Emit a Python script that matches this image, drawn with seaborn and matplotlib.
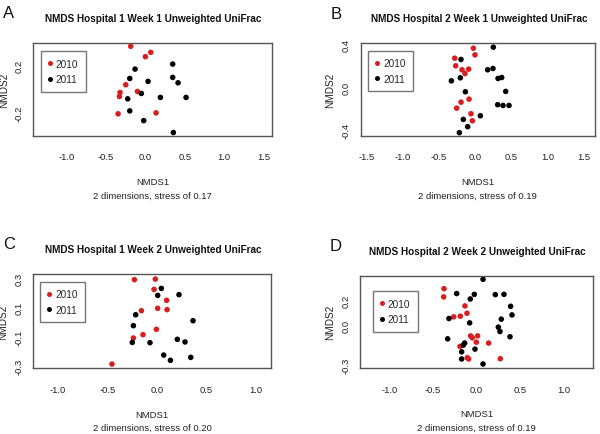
import matplotlib
matplotlib.use("Agg")
import matplotlib.pyplot as plt
import seaborn as sns
import pandas as pd

# ---------------- data ----------------
years = ["2010", "2011"]

a_x_2010 = [-0.186, 0.000, 0.068, -0.249, -0.321, -0.329, -0.101, -0.346, 0.135]
a_y_2010 = [0.366, 0.277, 0.314, 0.037, -0.029, -0.063, -0.020, -0.211, -0.203]
a_x_2011 = [0.346, -0.131, -0.198, 0.034, 0.346, 0.414, -0.051, -0.224, 0.190, 0.515, -0.198, -0.021, 0.354]
a_y_2011 = [0.214, 0.171, 0.091, 0.066, 0.100, 0.054, -0.037, -0.083, -0.071, -0.071, -0.186, -0.269, -0.371]

b_x_2010 = [-0.028, -0.005, -0.285, -0.272, -0.184, -0.143, -0.092, -0.087, -0.198, -0.258, -0.060, -0.041]
b_y_2010 = [0.366, 0.304, 0.273, 0.202, 0.165, 0.130, 0.171, -0.109, -0.137, -0.193, -0.245, -0.311]
b_x_2011 = [0.248, -0.198, 0.244, 0.170, -0.207, -0.331, 0.313, 0.364, 0.419, -0.138, 0.308, 0.382, 0.465, 0.069, -0.166, -0.106, -0.221]
b_y_2011 = [0.376, 0.261, 0.177, 0.165, 0.090, 0.062, 0.084, 0.093, -0.037, -0.040, -0.161, -0.168, -0.168, -0.264, -0.298, -0.366, -0.422]

c_x_2010 = [-0.226, -0.014, -0.027, 0.101, 0.010, 0.105, -0.155, -0.003, -0.139, -0.236, -0.453]
c_y_2010 = [0.291, 0.295, 0.224, 0.149, 0.094, 0.085, 0.078, -0.050, -0.087, -0.110, -0.289]
c_x_2011 = [0.047, 0.010, 0.226, -0.213, 0.368, -0.236, 0.209, 0.287, -0.247, -0.068, 0.071, 0.139, 0.345]
c_y_2011 = [0.231, 0.183, 0.188, 0.050, 0.009, -0.025, -0.119, -0.137, -0.140, -0.142, -0.227, -0.263, -0.243]

d_x_2010 = [-0.374, -0.378, -0.134, -0.111, -0.263, -0.187, -0.069, -0.050, 0.011, -0.004, 0.137, -0.191, -0.107, -0.092, 0.271]
d_y_2010 = [0.289, 0.225, 0.155, 0.098, 0.070, 0.075, -0.078, -0.093, -0.078, -0.127, -0.134, -0.160, -0.248, -0.258, -0.256]
d_x_2011 = [0.073, -0.229, -0.027, -0.073, 0.214, 0.313, 0.389, 0.405, 0.282, -0.317, -0.080, 0.248, 0.267, 0.382, -0.332, -0.137, -0.153, -0.019, -0.172, -0.172, 0.073]
d_y_2011 = [0.362, 0.251, 0.245, 0.209, 0.243, 0.245, 0.152, 0.085, 0.052, 0.057, 0.023, -0.010, -0.044, -0.085, -0.101, -0.134, -0.150, -0.181, -0.202, -0.258, -0.297]

titles = ["NMDS Hospital 1 Week 1 Unweighted UniFrac",
          "NMDS Hospital 2 Week 1 Unweighted UniFrac",
          "NMDS Hospital 1 Week 2 Unweighted UniFrac",
          "NMDS Hospital 2 Week 2 Unweighted UniFrac"]
letters = ["A", "B", "C", "D"]
stress = ["0.17", "0.19", "0.20", "0.19"]

a_xticks = [-1.0, -0.5, 0.0, 0.5, 1.0, 1.5]
b_xticks = [-1.5, -1.0, -0.5, 0.0, 0.5, 1.0, 1.5]
c_xticks = [-1.0, -0.5, 0.0, 0.5, 1.0]
d_xticks = [-1.0, -0.5, 0.0, 0.5, 1.0]
a_yticks = [-0.2, 0.0, 0.2]
a_ylabels = ["-0.2", "", "0.2"]
b_yticks = [-0.4, -0.2, 0.0, 0.2, 0.4]
b_ylabels = ["-0.4", "", "0.0", "", "0.4"]
c_yticks = [-0.3, -0.2, -0.1, 0.0, 0.1, 0.2, 0.3]
c_ylabels = ["-0.3", "", "-0.1", "", "0.1", "", "0.3"]
d_yticks = [-0.3, -0.2, -0.1, 0.0, 0.1, 0.2, 0.3]
d_ylabels = ["-0.3", "", "", "0.0", "", "0.2", ""]

# ---------------- style ----------------
sns.set_style("white")
FONT = ["Liberation Sans", "DejaVu Sans"]
plt.rcParams["font.family"] = FONT
RED = "#d81e1e"
palette = {"2010": RED, "2011": "#000000"}

W, H = 600, 435
fig = plt.figure(figsize=(6.0, 4.35), dpi=100)


def fx(px):
    return px / W


def fy(py):
    return 1 - py / H


panels = [
    dict(x10=a_x_2010, y10=a_y_2010, x11=a_x_2011, y11=a_y_2011,
         box=(33.3, 44.0, 271.7, 136.7), xlim=(-1.42, 1.60), ylim=(-0.398, 0.394),
         xt=a_xticks, yt=a_yticks, yl=a_ylabels, leg=(7.4, 8.3), ylab_x=4),
    dict(x10=b_x_2010, y10=b_y_2010, x11=b_x_2011, y11=b_y_2011,
         box=(360.7, 44.3, 595.0, 136.7), xlim=(-1.583, 1.652), ylim=(-0.45, 0.412),
         xt=b_xticks, yt=b_yticks, yl=b_ylabels, leg=(7.6, 7.4), ylab_x=330),
    dict(x10=c_x_2010, y10=c_y_2010, x11=c_x_2011, y11=c_y_2011,
         box=(33.3, 275.0, 270.7, 369.3), xlim=(-1.25, 1.155), ylim=(-0.318, 0.33),
         xt=c_xticks, yt=c_yticks, yl=c_ylabels, leg=(6.7, 7.7), ylab_x=3),
    dict(x10=d_x_2010, y10=d_y_2010, x11=d_x_2011, y11=d_y_2011,
         box=(360.0, 276.7, 593.3, 369.0), xlim=(-1.336, 1.336), ylim=(-0.328, 0.39),
         xt=d_xticks, yt=d_yticks, yl=d_ylabels, leg=(12.7, 15.6), ylab_x=330),
]

for i, p in enumerate(panels):
    l, t, r, b = p["box"]
    ax = fig.add_axes([fx(l), fy(b), fx(r - l), (b - t) / H])
    df = pd.DataFrame({
        "NMDS1": list(p["x10"]) + list(p["x11"]),
        "NMDS2": list(p["y10"]) + list(p["y11"]),
        "Year": [years[0]] * len(p["x10"]) + [years[1]] * len(p["x11"]),
    })
    sns.scatterplot(data=df, x="NMDS1", y="NMDS2", hue="Year", hue_order=years,
                    palette=palette, s=16, linewidth=0, ax=ax, legend=True)
    ax.set_xlim(*p["xlim"])
    ax.set_ylim(*p["ylim"])
    ax.set_xticks(p["xt"])
    ax.set_xticklabels([f"{v:.1f}" for v in p["xt"]], fontsize=6.8)
    ax.set_yticks(p["yt"])
    ax.set_yticklabels(p["yl"], fontsize=6.8, rotation=90, va="center")
    ax.tick_params(axis="both", direction="out", length=4, width=0.8,
                   colors="#333333", labelcolor="#222222")
    ax.tick_params(axis="x", pad=8)
    ax.tick_params(axis="y", pad=3)
    ax.set_xlabel("")
    ax.set_ylabel("")
    for sp in ax.spines.values():
        sp.set_visible(True)
        sp.set_color("#555555")
        sp.set_linewidth(1.0)

    # legend
    ox, oy = p["leg"]
    handles, labels = ax.get_legend_handles_labels()
    leg = ax.legend(handles=handles, labels=labels, loc="upper left",
                    bbox_to_anchor=(ox / (r - l), 1 - oy / (b - t)),
                    borderaxespad=0, frameon=True, fancybox=False,
                    edgecolor="#555555", borderpad=0.75, labelspacing=0.55,
                    handlelength=0.3, handletextpad=0.45, markerscale=0.9,
                    prop={"family": FONT, "size": 7.2})
    leg.get_frame().set_linewidth(1.0)

    cx = (l + r) / 2
    fig.text(fx(cx + 1), fy(t - 25), titles[i], ha="center", va="center",
             fontsize=7.2, fontweight="bold", color="#111111")
    fig.text(fx(l - 30), fy(t - 30), letters[i], ha="left", va="center",
             fontsize=12, color="#111111")
    fig.text(fx(cx), fy(b + 46), "NMDS1", ha="center", va="center",
             fontsize=6.8, color="#222222")
    fig.text(fx(cx), fy(b + 59.5), f"2 dimensions, stress of {stress[i]}",
             ha="center", va="center", fontsize=6.8, color="#222222")
    fig.text(fx(p["ylab_x"]), fy((t + b) / 2), "NMDS2", ha="center", va="center",
             rotation=90, fontsize=7.2, color="#222222")

fig.savefig("out.png", dpi=100)
